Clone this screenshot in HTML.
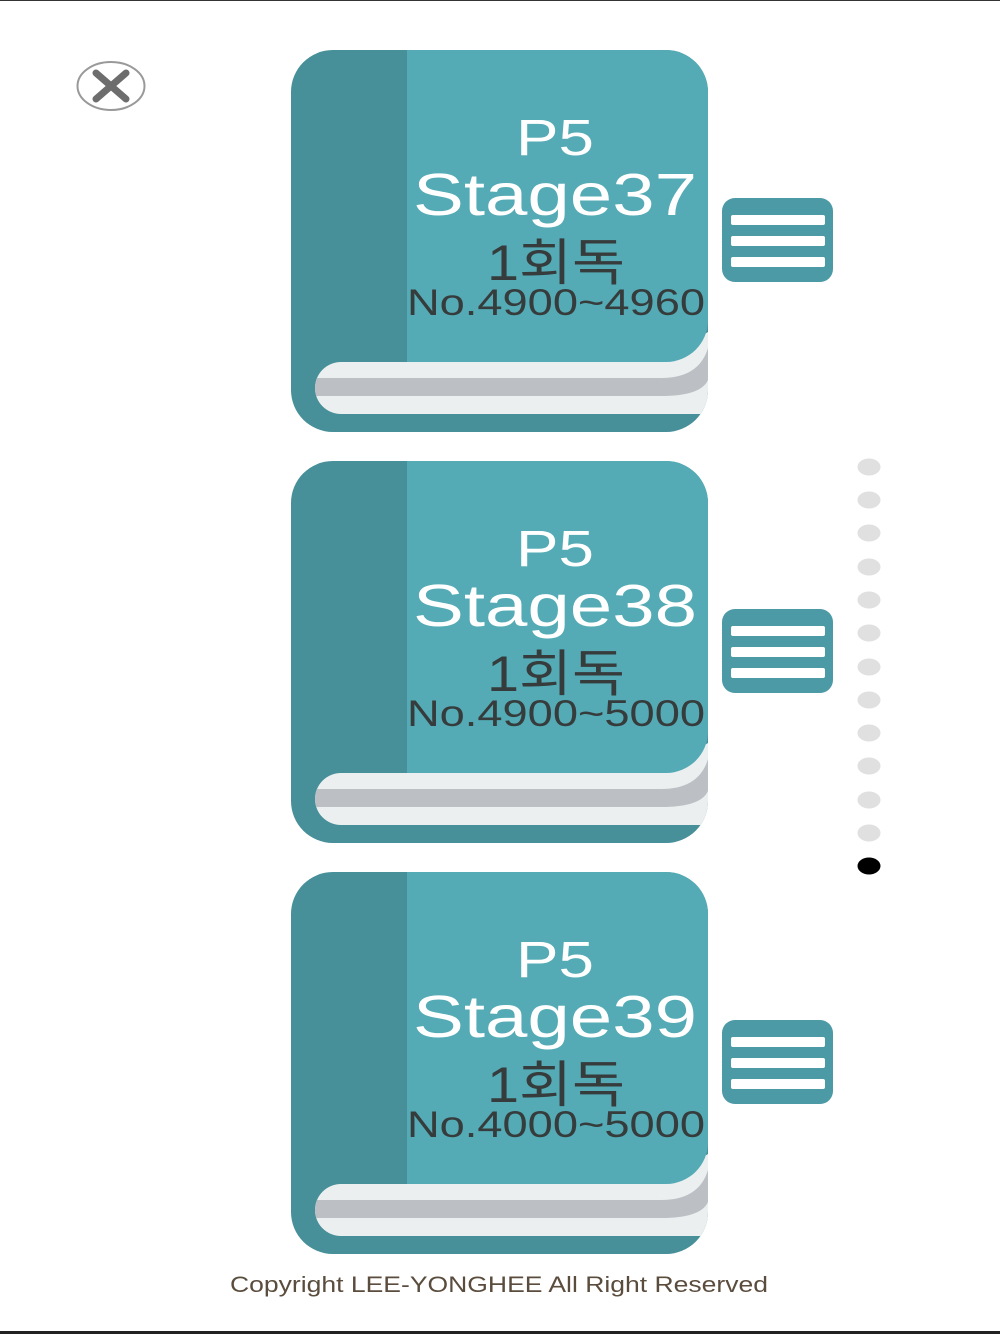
<!DOCTYPE html>
<html><head><meta charset="utf-8"><style>
html,body{margin:0;padding:0;background:#fff;}
svg{display:block;}
</style></head><body>
<svg width="1000" height="1334" viewBox="0 0 1000 1334" xmlns="http://www.w3.org/2000/svg">
<defs>
  <clipPath id="pg"><path d="M50,312 H365 L417,282 V364 H50 A26,26 0 0 1 50,312 Z"/></clipPath>
  <clipPath id="bk"><rect x="0" y="0" width="417" height="382" rx="42"/></clipPath>
  <g id="book">
    <rect x="0" y="0" width="417" height="382" rx="42" fill="#478f99"/>
    <g clip-path="url(#bk)">
      <path d="M50,312 H365 L417,282 V364 H50 A26,26 0 0 1 50,312 Z" fill="#eceff0"/>
      <path clip-path="url(#pg)" d="M20,328 H370 Q408,328 417,298 V330 Q410,346 370,346 H20 Z" fill="#bcc0c4"/>
    </g>
    <path d="M116,0 H375 A42,42 0 0 1 417,42 V270 A42,42 0 0 1 375,312 H116 Z" fill="#54abb5"/>
    <rect x="431" y="148" width="111" height="84" rx="13" fill="#4c9aa6"/>
    <rect x="440" y="165" width="94" height="10" rx="2" fill="#fff"/>
    <rect x="440" y="186" width="94" height="10" rx="2" fill="#fff"/>
    <rect x="440" y="207" width="94" height="10" rx="2" fill="#fff"/>
  </g>
</defs>
<rect x="0" y="0" width="1000" height="1" fill="#333"/>
<rect x="0" y="1331" width="1000" height="3" fill="#222"/>

<!-- close button -->
<ellipse cx="111" cy="86" rx="33.5" ry="24" fill="none" stroke="#999" stroke-width="2"/>
<path d="M96,73 L126,99 M126,73 L96,99" stroke="#6d6d6d" stroke-width="7" stroke-linecap="round"/>

<g font-family="'Liberation Sans','Noto Sans CJK KR',sans-serif" text-anchor="middle">
  <!-- Book 1 -->
  <use href="#book" x="291" y="50"/>
  <text x="555" y="155" font-size="51" fill="#fff" textLength="78" lengthAdjust="spacingAndGlyphs">P5</text>
  <text x="555" y="215" font-size="59" fill="#fff" textLength="284" lengthAdjust="spacingAndGlyphs">Stage37</text>
  <text x="556" y="280" font-size="50" fill="#363b3c" textLength="138" lengthAdjust="spacingAndGlyphs">1회독</text>
  <text x="556" y="315" font-size="37" fill="#363b3c" textLength="298" lengthAdjust="spacingAndGlyphs">No.4900~4960</text>

  <!-- Book 2 -->
  <use href="#book" x="291" y="461"/>
  <text x="555" y="566" font-size="51" fill="#fff" textLength="78" lengthAdjust="spacingAndGlyphs">P5</text>
  <text x="555" y="626" font-size="59" fill="#fff" textLength="284" lengthAdjust="spacingAndGlyphs">Stage38</text>
  <text x="556" y="691" font-size="50" fill="#363b3c" textLength="138" lengthAdjust="spacingAndGlyphs">1회독</text>
  <text x="556" y="726" font-size="37" fill="#363b3c" textLength="298" lengthAdjust="spacingAndGlyphs">No.4900~5000</text>

  <!-- Book 3 -->
  <use href="#book" x="291" y="872"/>
  <text x="555" y="977" font-size="51" fill="#fff" textLength="78" lengthAdjust="spacingAndGlyphs">P5</text>
  <text x="555" y="1037" font-size="59" fill="#fff" textLength="284" lengthAdjust="spacingAndGlyphs">Stage39</text>
  <text x="556" y="1102" font-size="50" fill="#363b3c" textLength="138" lengthAdjust="spacingAndGlyphs">1회독</text>
  <text x="556" y="1137" font-size="37" fill="#363b3c" textLength="298" lengthAdjust="spacingAndGlyphs">No.4000~5000</text>

  <text x="499" y="1292" font-size="22" fill="#5b4d3e" textLength="538" lengthAdjust="spacingAndGlyphs">Copyright LEE-YONGHEE All Right Reserved</text>
</g>

<!-- page dots -->
<g fill="#e0e0e0">
  <ellipse cx="869" cy="467" rx="11.5" ry="8.5"/>
  <ellipse cx="869" cy="500" rx="11.5" ry="8.5"/>
  <ellipse cx="869" cy="533" rx="11.5" ry="8.5"/>
  <ellipse cx="869" cy="567" rx="11.5" ry="8.5"/>
  <ellipse cx="869" cy="600" rx="11.5" ry="8.5"/>
  <ellipse cx="869" cy="633" rx="11.5" ry="8.5"/>
  <ellipse cx="869" cy="667" rx="11.5" ry="8.5"/>
  <ellipse cx="869" cy="700" rx="11.5" ry="8.5"/>
  <ellipse cx="869" cy="733" rx="11.5" ry="8.5"/>
  <ellipse cx="869" cy="766" rx="11.5" ry="8.5"/>
  <ellipse cx="869" cy="800" rx="11.5" ry="8.5"/>
  <ellipse cx="869" cy="833" rx="11.5" ry="8.5"/>
</g>
<ellipse cx="869" cy="866" rx="11.5" ry="8.5" fill="#000"/>
</svg>
</body></html>
